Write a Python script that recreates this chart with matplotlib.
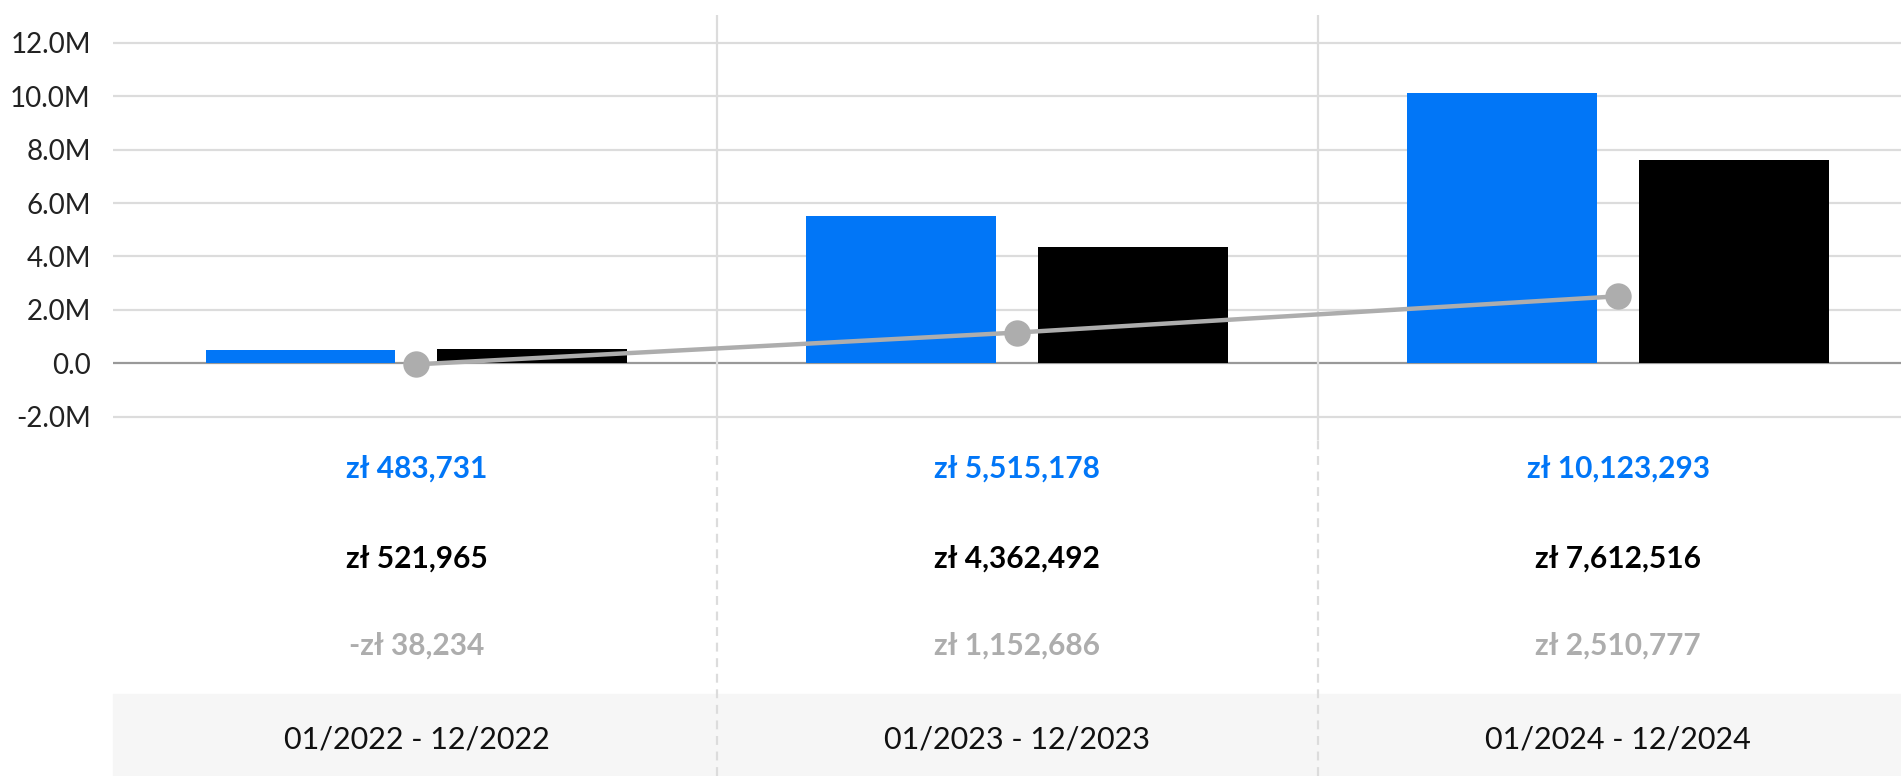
import numpy as np
import matplotlib
matplotlib.use("Agg")
import matplotlib.pyplot as plt
from matplotlib import transforms
from matplotlib.patches import Rectangle
from matplotlib.ticker import FuncFormatter

# data
periods = ["01/2022 - 12/2022", "01/2023 - 12/2023", "01/2024 - 12/2024"]
blue_vals = [483731, 5515178, 10123293]
black_vals = [521965, 4362492, 7612516]
diff_vals = [-38234, 1152686, 2510777]
y_ticks = [-2e6, 0, 2e6, 4e6, 6e6, 8e6, 10e6, 12e6]

BLUE = "#0176f7"
BLACK = "#000000"
GREY = "#adadad"
GRID = "#dcdcdc"

plt.rcParams["font.family"] = ["Lato", "DejaVu Sans"]

W, H = 1901, 776
fig = plt.figure(figsize=(W / 100, H / 100), dpi=100)
ax = fig.add_axes([113 / W, 1 - 440 / H, 1 - 113 / W, (440 - 15) / H])

x = np.arange(len(periods))
bw = 0.316
off = 0.193

ax.bar(x - off, blue_vals, width=bw, color=BLUE, zorder=3)
ax.bar(x + off, black_vals, width=bw, color=BLACK, zorder=3)
ax.plot(x, diff_vals, color=GREY, lw=3.2, marker="o", markersize=19,
        markeredgewidth=0, zorder=4, solid_capstyle="butt")

ax.set_xlim(-0.505, 2.471)
ax.set_ylim(-2.87e6, 13.04e6)
ax.set_yticks(y_ticks)
ax.yaxis.set_major_formatter(FuncFormatter(lambda v, p: f"{v / 1e6:.1f}M" if v != 0 else "0.0"))
ax.tick_params(axis="y", length=0, pad=16, labelsize=20, labelcolor="#222222")
ax.set_xticks([])
for s in ax.spines.values():
    s.set_visible(False)

for t in y_ticks:
    ax.axhline(t, color="#999999" if t == 0 else GRID, lw=1.6, zorder=1)

# category separators: solid inside the plot, dashed in the table below
tr = transforms.blended_transform_factory(ax.transData, fig.transFigure)
for b in [0.5, 1.5]:
    ax.axvline(b, color=GRID, lw=1.6, zorder=1)
    ax.plot([b, b], [0, 1 - 440 / H], color=GRID, lw=1.6, ls=(0, (4, 3)),
            transform=tr, clip_on=False, zorder=0)

# footer band
fig.patches.append(Rectangle((113 / W, 0), 1, 82 / H, transform=fig.transFigure,
                             color="#f6f6f6", zorder=-1))


def money(v):
    s = f"zł {abs(v):,}"
    return "-" + s if v < 0 else s


for i in range(len(periods)):
    ax.text(x[i], 1 - 469 / H, money(blue_vals[i]), transform=tr, ha="center", va="center",
            fontsize=21.5, fontweight="bold", color=BLUE)
    ax.text(x[i], 1 - 559 / H, money(black_vals[i]), transform=tr, ha="center", va="center",
            fontsize=21.5, fontweight="bold", color=BLACK)
    ax.text(x[i], 1 - 646 / H, money(diff_vals[i]), transform=tr, ha="center", va="center",
            fontsize=21.5, fontweight="bold", color=GREY)
    ax.text(x[i], 1 - 740 / H, periods[i], transform=tr, ha="center", va="center",
            fontsize=22, color="#111111")

fig.savefig("out.png", dpi=100)
